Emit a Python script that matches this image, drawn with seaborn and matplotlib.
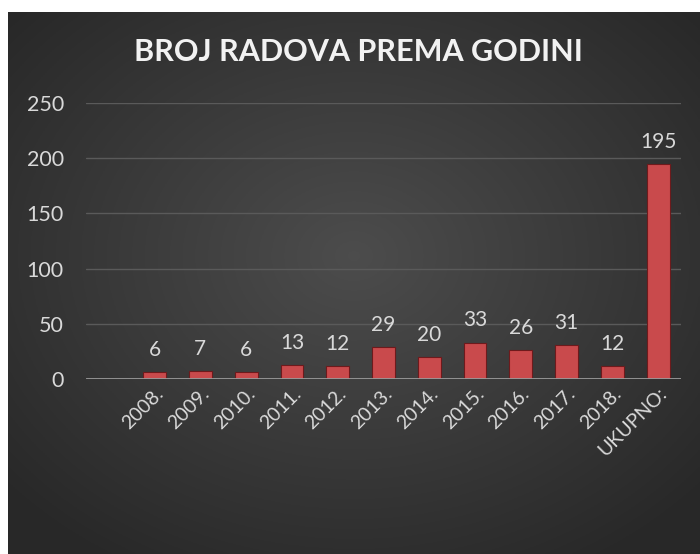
import numpy as np
import pandas as pd
import matplotlib
matplotlib.use("Agg")
import matplotlib.pyplot as plt
import seaborn as sns

# podaci
godine = ["", "2008.", "2009.", "2010.", "2011.", "2012.", "2013.", "2014.",
          "2015.", "2016.", "2017.", "2018.", "UKUPNO:"]
broj_radova = [np.nan, 6, 7, 6, 13, 12, 29, 20, 33, 26, 31, 12, 195]
y_ticks = [0, 50, 100, 150, 200, 250]

df = pd.DataFrame({"godina": godine, "broj": broj_radova})

sns.set_style("dark")
plt.rcParams['font.family'] = ['Lato', 'DejaVu Sans']

fig = plt.figure(figsize=(7.0, 5.54), dpi=100)
fig.patch.set_facecolor("white")

# tamna pozadina s radijalnim prijelazom
bg = fig.add_axes([8 / 700, 0, 1 - 8 / 700, 1 - 12 / 554])
yy, xx = np.mgrid[0:1:300j, 0:1:300j]
r = np.sqrt(((xx - 0.5) / 0.75) ** 2 + ((yy - 0.45) / 0.75) ** 2)
shade = np.clip(0.30 - 0.16 * r, 0.16, 0.30)
bg.imshow(np.dstack([shade] * 3), aspect="auto", extent=[0, 1, 0, 1])
bg.set_axis_off()

ax = fig.add_axes([86 / 700, 1 - 379 / 554, (681 - 86) / 700, (379 - 103) / 554])
ax.set_facecolor("none")
sns.barplot(data=df, x="godina", y="broj", ax=ax, color="#c94a4c",
            width=0.5, saturation=1, edgecolor="#6e1a1c", linewidth=0.8)

for i, v in enumerate(broj_radova):
    if not np.isnan(v):
        ax.text(i, v + 11, f"{int(v)}", ha="center", va="bottom",
                color="#d9d9d9", fontsize=15)

ax.set_ylim(0, 250)
ax.set_xlim(-0.5, len(godine) - 0.5)
ax.set_yticks(y_ticks)
ax.grid(axis="y", color="#5a5a5a", linewidth=1)
ax.grid(axis="x", visible=False)
ax.set_axisbelow(True)
ax.axhline(0, color="#9a9a9a", linewidth=2, zorder=3)
for s in ax.spines.values():
    s.set_visible(False)
ax.set_xlabel("")
ax.set_ylabel("")
ax.tick_params(axis="y", colors="#d9d9d9", labelsize=15.5, length=0, pad=16)
ax.tick_params(axis="x", colors="#d9d9d9", labelsize=14, length=0, pad=4)
plt.setp(ax.get_xticklabels(), rotation=45, ha="right", rotation_mode="anchor")

fig.text(358 / 700, 1 - 52 / 554, "BROJ RADOVA PREMA GODINI", ha="center",
         va="center", color="#f2f2f2", fontsize=22, fontweight="bold")

fig.savefig("out.png", dpi=100, facecolor=fig.get_facecolor())
